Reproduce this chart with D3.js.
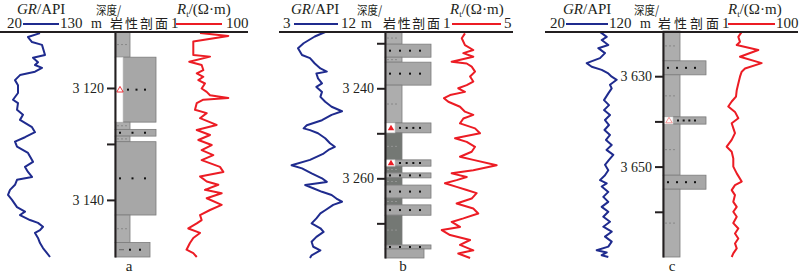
<!DOCTYPE html>
<html>
<head>
<meta charset="utf-8">
<script src="https://cdn.jsdelivr.net/npm/d3@7"></script>
<style>
body { margin: 0; background: #fff; }
svg { display: block; }
text { font-family: "Liberation Serif", "Times New Roman", serif; fill: #231f20; }
.cjk { font-family: "Noto Sans CJK SC", sans-serif; }
</style>
</head>
<body>
<svg width="800" height="276"></svg>
<script>
// ---- well a ----
const grA_depth = [3110.2,3110.9,3111.8,3112.3,3114.1,3114.6,3115.4,3115.9,3116.4,3117.1,3117.7,3118.6,3119.5,3120.9,3122.1,3122.7,3123.9,3124.8,3125.7,3127.0,3127.9,3128.8,3129.6,3130.5,3131.6,3133.2,3134.1,3135.0,3135.9,3136.4,3137.3,3138.2,3139.1,3140.0,3141.3,3142.1,3142.7,3143.6,3144.1,3144.8,3145.4,3145.9,3146.8,3147.7,3148.6,3149.5,3150.2];
const grA = [60,48,52,62,65,53,58,55,62,55,40,35,38,38,33,38,37,43,40,52,55,45,35,37,48,53,45,48,52,37,35,30,28,32,37,45,40,50,58,63,60,55,58,60,63,67,70];
const rtA_depth = [3110.2,3110.7,3111.7,3114.1,3114.4,3115.3,3115.9,3116.8,3117.4,3118.0,3118.6,3119.2,3120.1,3120.7,3121.3,3121.8,3122.1,3122.7,3123.9,3124.5,3125.4,3126.6,3127.5,3128.4,3129.3,3130.2,3131.1,3132.0,3132.9,3134.1,3135.0,3135.8,3136.7,3137.3,3138.2,3138.8,3139.7,3140.9,3141.8,3142.7,3143.6,3144.2,3145.1,3145.9,3146.8,3147.7,3148.9,3149.5,3150.2];
const rtA = [10,51,6.8,6.8,17.8,5.4,11,12.1,8.3,12.1,9.1,13.3,11,14.7,17.8,51,12.1,8.3,7.5,14.7,10,26,8.3,17.8,9.1,19.6,11,21.5,11,31.6,38.3,10,14.7,28.7,13.3,34.8,14.7,34.8,17.8,10,11,8.3,5.1,10,6.8,5.6,4.6,6.8,8.3];
const lithA = [
  [3110.0, 3114.5, "silt"],
  [3114.5, 3126.1, "sand", "triOpen"],
  [3126.1, 3127.4, "silt"],
  [3127.4, 3128.6, "sand"],
  [3128.6, 3129.6, "silt"],
  [3129.6, 3142.7, "sand"],
  [3142.7, 3147.6, "silt"],
  [3147.6, 3150.2, "mixed"]
];
const ticksA = [3120, 3130, 3140];
const labelsA = [3120, 3140];

// ---- well b ----
const grB_depth = [3227.5,3228.5,3230.0,3231.1,3232.6,3233.3,3234.5,3235.6,3236.3,3236.7,3237.8,3238.9,3239.7,3240.8,3241.9,3243.0,3244.1,3245.1,3245.9,3247.1,3248.2,3248.9,3249.3,3250.0,3251.1,3252.2,3253.0,3253.7,3254.5,3255.9,3257.1,3257.8,3258.9,3260.0,3260.8,3261.5,3262.2,3263.0,3263.7,3264.5,3265.2,3265.9,3267.1,3267.8,3268.9,3270.0,3271.1,3271.9,3273.0,3274.1,3275.2,3276.0,3277.1,3277.7];
const grB = [8.4,7.1,5.7,5.0,5.5,6.5,7.1,7.8,8.6,7.3,7.5,8.0,7.3,8.0,7.8,8.4,9.2,10.5,9.2,8.0,6.1,5.7,6.5,7.5,8.4,9.0,9.6,8.8,8.2,6.5,4.2,5.5,6.7,8.0,8.6,5.9,6.9,8.0,9.2,9.8,10.5,9.4,8.4,7.8,7.3,6.7,7.8,8.2,7.3,6.7,6.9,7.8,6.7,6.5];
const rtB_depth = [3227.8,3228.9,3230.4,3231.5,3232.2,3233.0,3234.1,3234.5,3235.2,3236.3,3237.4,3238.5,3239.3,3240.0,3240.8,3241.5,3242.2,3243.0,3244.1,3245.2,3245.9,3246.7,3247.8,3248.9,3250.0,3251.1,3251.9,3253.0,3254.1,3255.2,3255.9,3257.1,3258.2,3258.9,3259.7,3260.4,3261.1,3261.9,3262.6,3263.3,3264.5,3265.6,3266.7,3267.8,3268.9,3269.7,3270.8,3271.5,3272.6,3273.7,3274.8,3276.0,3276.7,3277.7];
const rtB = [2.56,2.36,2.56,3.08,2.46,3.08,1.73,2.67,2.98,3.19,2.88,3.08,2.67,2.14,2.56,1.63,1.25,1.52,2.25,2.56,3.08,2.46,2.25,3.19,3.5,1.94,2.67,3.19,2.98,2.25,3.08,4.54,3.08,1.73,2.67,2.04,1.31,2.04,2.67,3.29,2.98,2.04,3.08,3.39,2.46,1.73,2.25,1.11,1.63,2.88,2.25,3.08,2.14,2.88];
const lithB = [
  [3227.5, 3230.2, "silt"],
  [3230.2, 3233.1, "sand"],
  [3233.1, 3234.2, "silt"],
  [3234.2, 3239.3, "sand"],
  [3239.3, 3247.7, "silt"],
  [3247.7, 3249.9, "sand", "tri"],
  [3249.9, 3255.9, "mud"],
  [3255.9, 3257.3, "sand", "tri"],
  [3257.3, 3258.8, "mud"],
  [3258.8, 3259.9, "sand"],
  [3259.9, 3261.5, "mud"],
  [3261.5, 3264.4, "sand"],
  [3264.4, 3265.9, "mud"],
  [3265.9, 3268.2, "sand"],
  [3268.2, 3274.8, "mud"],
  [3274.8, 3275.7, "sand"],
  [3275.7, 3277.7, "fine"]
];
const ticksB = [3230, 3240, 3250, 3260, 3270];
const labelsB = [3240, 3260];

// ---- well c ----
const grC_depth = [3620.2,3621.3,3622.0,3623.1,3623.8,3624.9,3626.0,3627.1,3627.9,3628.6,3629.4,3630.1,3630.8,3631.9,3632.7,3633.8,3635.3,3636.4,3637.5,3638.6,3639.7,3640.8,3641.9,3643.0,3644.1,3645.2,3646.3,3647.4,3648.5,3649.6,3650.8,3651.9,3653.0,3653.7,3654.4,3655.6,3656.7,3657.8,3658.9,3660.0,3661.1,3662.2,3663.3,3664.4,3665.5,3666.6,3667.7,3668.5,3669.0,3669.6,3670.0];
const grC = [75,81.7,76.7,83.3,73.3,80,75,61.7,66.7,76.7,83.3,86.7,91.7,85,86.7,83.3,79,84,79,85,80,84,79.5,85,81,86.7,81.5,88.3,84,80,83.3,80,75,81.7,76.7,83.3,78.3,83.3,76.7,83.3,78.3,85,78.3,86.7,80,86.7,83.3,71.7,81.7,76.7,83.3];
const rtC_depth = [3620.2,3621.3,3622.4,3623.1,3624.2,3625.7,3627.1,3628.3,3629.0,3630.1,3631.6,3633.1,3634.5,3635.6,3636.7,3637.9,3639.3,3640.4,3641.5,3642.6,3644.1,3645.6,3646.7,3648.2,3650.0,3651.5,3653.3,3654.1,3655.2,3656.3,3657.8,3658.9,3660.0,3661.1,3662.5,3663.7,3664.8,3665.9,3667.0,3668.1,3669.2,3670.0];
const rtC = [3.49,2.87,3.16,2.62,9.07,3.16,11.0,4.22,3.49,3.16,2.87,2.62,2.51,1.96,1.61,2.37,2.87,1.96,2.15,2.37,1.96,1.47,1.96,2.15,2.15,2.62,3.49,2.37,1.96,2.37,2.15,2.62,2.15,2.62,2.15,2.87,2.37,2.87,2.37,2.62,2.15,1.96];
const lithC = [
  [3620.0, 3626.6, "silt"],
  [3626.6, 3629.7, "sand"],
  [3629.7, 3639.0, "silt"],
  [3639.0, 3640.6, "sand", "triOpen"],
  [3640.6, 3651.9, "silt"],
  [3651.9, 3655.0, "sand"],
  [3655.0, 3670.0, "silt"]
];
const ticksC = [3630, 3640, 3650, 3660];
const labelsC = [3630, 3650];

// curve scale domains and panel labels
const grDomains = [[20, 130], [3, 12], [20, 120]];
const rtDomains = [[1, 100], [1, 5], [1, 100]];
const panelLabels = ["a", "b", "c"];

const blue = "#1f2b8e";
const red = "#ec1c24";
const fmt = d3.formatLocale({decimal: ".", thousands: " ", grouping: [3], currency: ["", ""]}).format(",");

const svg = d3.select("svg");

const panels = [
  {x0: 0, x1: 248, axisX: 115, yDom: [3110, 3150.2], yRng: [32, 257],
   gr: d3.scaleLinear().domain(grDomains[0]).range([0, 110]),
   rt: d3.scaleLog().domain(rtDomains[0]).range([160, 240]),
   widths: {silt: 15, mud: 15, sand: 41, fine: 35, mixed: 35}, marker: 8, nDots: 3,
   grD: grA_depth, grV: grA, rtD: rtA_depth, rtV: rtA, lith: lithA, ticks: ticksA, labels: labelsA, labelX: 129,
   head: {gr: 17, grLo: 7, grLine: [23, 59], grHi: 60, m: 91, sd: 96, ypm: 110, ypmW: 58, rt: 177, rtLo: 171, rtLine: [176, 222], rtHi: 226}},
  {x0: 279, x1: 513, axisX: 385, yDom: [3227.5, 3277.7], yRng: [32, 258],
   gr: d3.scaleLinear().domain(grDomains[1]).range([282, 354]),
   rt: d3.scaleLinear().domain(rtDomains[1]).range([440, 504]),
   widths: {silt: 17, mud: 17, sand: 46, fine: 39}, marker: 10, nDots: 4,
   grD: grB_depth, grV: grB, rtD: rtB_depth, rtV: rtB, lith: lithB, ticks: ticksB, labels: labelsB, labelX: 403,
   head: {gr: 291, grLo: 283, grLine: [294, 338], grHi: 341, m: 361, sd: 357, ypm: 383, ypmW: 57, rt: 450, rtLo: 443, rtLine: [452, 501], rtHi: 504}},
  {x0: 545, x1: 798, axisX: 663, yDom: [3620, 3670], yRng: [31, 257],
   gr: d3.scaleLinear().domain(grDomains[2]).range([545, 645]),
   rt: d3.scaleLog().domain(rtDomains[2]).range([720, 800]),
   widths: {silt: 17, mud: 17, sand: 43, fine: 39}, marker: 10, nDots: 4,
   grD: grC_depth, grV: grC, rtD: rtC_depth, rtV: rtC, lith: lithC, ticks: ticksC, labels: labelsC, labelX: 672,
   head: {gr: 563, grLo: 550, grLine: [566, 608], grHi: 609, m: 640, sd: 634, ypm: 658, ypmW: 61, rt: 728, rtLo: 722, rtLine: [728, 775], rtHi: 776}}
];

panels.forEach((p, i) => {
  const g = svg.append("g");
  const y = d3.scaleLinear().domain(p.yDom).range(p.yRng);
  const w = d3.scaleOrdinal().domain(Object.keys(p.widths)).range(Object.values(p.widths));
  const rows = p.lith.map(([top, bot, type, mark]) => ({top, bot, type, mark}));

  // lithology column
  const lg = g.append("g");
  lg.selectAll("rect.lith").data(rows).join("rect")
    .attr("class", "lith")
    .attr("x", d => p.axisX)
    .attr("y", d => y(d.top))
    .attr("width", d => w(d.type))
    .attr("height", d => y(d.bot) - y(d.top))
    .attr("fill", d => d.type === "mud" ? "#747874" : (d.type === "silt" ? "#adadad" : "#a7a7a7"))
    .attr("stroke", "#7c7c7c")
    .attr("stroke-width", 0.8);

  // silt / mud dashes
  lg.selectAll("line.dash").data(rows.filter(d => d.type === "silt" || d.type === "mud")).join("line")
    .attr("x1", p.axisX + 2).attr("x2", p.axisX + w("silt") - 3)
    .attr("y1", d => (y(d.top) + y(d.bot)) / 2).attr("y2", d => (y(d.top) + y(d.bot)) / 2)
    .attr("stroke", d => d.type === "mud" ? "#9a9a9a" : "#7e7e7e")
    .attr("stroke-width", 0.8)
    .attr("stroke-dasharray", "2,2");

  // marker boxes
  const marked = rows.filter(d => d.mark);
  lg.selectAll("rect.mark").data(marked).join("rect")
    .attr("x", p.axisX).attr("y", d => y(d.top))
    .attr("width", p.marker).attr("height", d => y(d.bot) - y(d.top))
    .attr("fill", "#fff")
    .attr("stroke", "#c8c8c8").attr("stroke-width", 0.6);
  lg.selectAll("path.tri").data(marked).join("path")
    .attr("d", d3.symbol(d3.symbolTriangle, 18))
    .attr("transform", d => `translate(${p.axisX + p.marker / 2 + 1},${(y(d.top) + y(d.bot)) / 2 + 0.5})`)
    .attr("fill", d => d.mark === "tri" ? red : "none")
    .attr("stroke", d => d.mark === "tri" ? "none" : (i === 2 ? "#f28b8b" : red))
    .attr("stroke-width", 0.9);

  // sand dots
  const dotted = rows.filter(d => d.type === "sand" || d.type === "mixed");
  dotted.forEach(d => {
    const left = p.axisX + (d.mark ? p.marker : 0) + 5;
    const span = w(d.type) - (d.mark ? p.marker : 0) - 16;
    const n = d.type === "mixed" ? 2 : p.nDots;
    const cy = (y(d.top) + y(d.bot)) / 2;
    d3.range(n).forEach(k => {
      const cx = d.type === "mixed" ? left + 10 + k * 10 : left + k * span / (n - 1);
      lg.append("rect").attr("x", cx - 1).attr("y", cy - 1).attr("width", 2).attr("height", 2).attr("fill", "#111");
    });
    if (d.type === "mixed") {
      lg.append("line").attr("x1", left - 1).attr("x2", left + 4).attr("y1", cy).attr("y2", cy)
        .attr("stroke", "#555").attr("stroke-width", 0.8);
    }
  });

  // depth axis
  const ax = g.append("g")
    .attr("transform", `translate(${p.axisX},0)`)
    .call(d3.axisLeft(y).tickValues(p.ticks).tickSize(8).tickSizeOuter(0).tickPadding(3)
      .tickFormat(d => p.labels.includes(d) ? fmt(d) : ""));
  ax.select(".domain").attr("stroke", "#231f20").attr("stroke-width", 2);
  ax.selectAll(".tick line").attr("stroke", "#231f20").attr("stroke-width", 2);
  ax.selectAll(".tick text").attr("font-family", "Liberation Serif, serif").attr("font-size", 14).attr("fill", "#231f20");
  ax.attr("font-family", null);

  // curves
  const grLine = d3.line().x(d => p.gr(d[1])).y(d => y(d[0]));
  const rtLine = d3.line().x(d => p.rt(d[1])).y(d => y(d[0]));
  g.append("path").datum(d3.zip(p.grD, p.grV))
    .attr("d", grLine).attr("fill", "none").attr("stroke", blue).attr("stroke-width", 2).attr("stroke-linejoin", "round");
  g.append("path").datum(d3.zip(p.rtD, p.rtV))
    .attr("d", rtLine).attr("fill", "none").attr("stroke", red).attr("stroke-width", 2).attr("stroke-linejoin", "round");

  // header
  const h = p.head;
  g.append("line").attr("x1", p.x0).attr("x2", p.x1).attr("y1", 32).attr("y2", 32)
    .attr("stroke", "#231f20").attr("stroke-width", 2);

  const tg = g.append("text").attr("x", h.gr).attr("y", 14).attr("font-size", 15);
  tg.append("tspan").attr("font-style", "italic").text("GR");
  tg.append("tspan").text("/API");

  const tr = g.append("text").attr("x", h.rt).attr("y", 14).attr("font-size", 15);
  tr.append("tspan").attr("font-style", "italic").text("R");
  tr.append("tspan").attr("font-size", 9).attr("dy", 3).text("t");
  tr.append("tspan").attr("dy", -3).text("/(Ω·m)");

  g.append("text").attr("class", "cjk").attr("x", h.sd).attr("y", 14.5).attr("font-size", 12)
    .attr("textLength", 25).attr("lengthAdjust", "spacingAndGlyphs").text("深度/");
  g.append("text").attr("class", "cjk").attr("x", h.ypm).attr("y", 28).attr("font-size", 13)
    .attr("textLength", h.ypmW).attr("lengthAdjust", "spacing").text("岩性剖面");
  g.append("text").attr("x", h.m).attr("y", 28).attr("font-size", 14).text("m");

  const grDom = p.gr.domain(), rtDom = p.rt.domain();
  g.append("text").attr("x", h.grLo).attr("y", 28).attr("font-size", 15).text(grDom[0]);
  g.append("text").attr("x", h.grHi).attr("y", 28).attr("font-size", 15).text(grDom[1]);
  g.append("line").attr("x1", h.grLine[0]).attr("x2", h.grLine[1]).attr("y1", 24).attr("y2", 24)
    .attr("stroke", blue).attr("stroke-width", 2);
  g.append("text").attr("x", h.rtLo).attr("y", 28).attr("font-size", 15).text(rtDom[0]);
  g.append("text").attr("x", h.rtHi).attr("y", 28).attr("font-size", 15).text(rtDom[1]);
  g.append("line").attr("x1", h.rtLine[0]).attr("x2", h.rtLine[1]).attr("y1", 24).attr("y2", 24)
    .attr("stroke", red).attr("stroke-width", 2);

  // panel label
  g.append("text").attr("x", p.labelX).attr("y", 271).attr("font-size", 15)
    .attr("text-anchor", "middle").text(panelLabels[i]);
});
</script>
</body>
</html>
